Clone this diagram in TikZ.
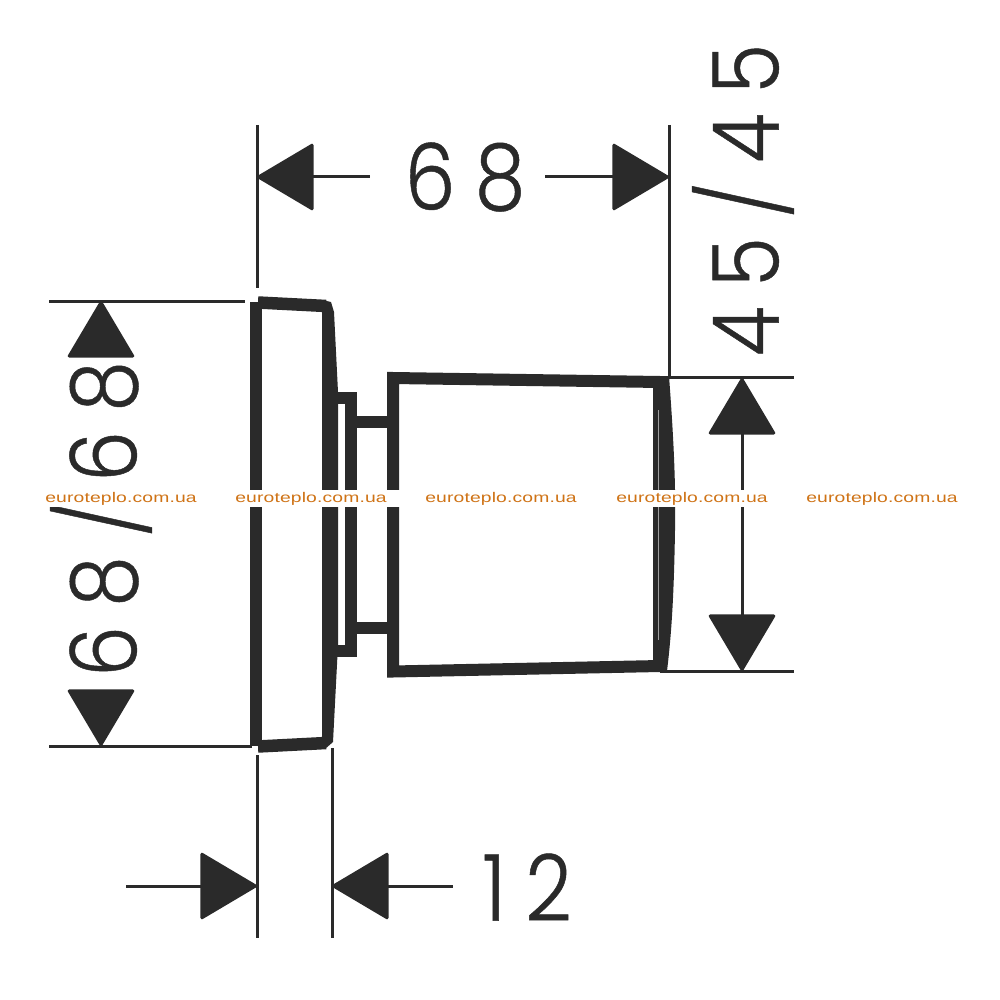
\documentclass[tikz,border=0pt]{standalone}
\usepackage{fontspec}
\setmainfont{Liberation Sans}
\newfontfamily\dimfont[LetterSpace=21,FakeStretch=0.88,FakeBold=0.5]{Poppins Light}
\newfontfamily\markfont[LetterSpace=1,FakeStretch=1.38]{Liberation Sans}
\usetikzlibrary{arrows.meta}
\definecolor{ink}{HTML}{2A2A2A}
\definecolor{wm}{HTML}{CF7316}
\tikzset{
  x=1pt,y=-1pt,
  thin line/.style={draw=ink,line width=3pt},
  heavy/.style={draw=ink,line width=12pt,line join=miter},
  dimline/.style={thin line,fill=ink,>={Triangle[length=58pt,width=68pt,round]}},
  dimlabel/.style={font=\dimfont\fontsize{92}{92}\selectfont,text=ink,inner sep=0pt,outer sep=0pt},
  dimlabelw/.style={dimlabel,rotate=90},
  wmark/.style={font=\markfont\fontsize{14}{16}\selectfont,text=wm,fill=white,inner xsep=0pt,inner ysep=0pt,minimum height=17pt,minimum width=180pt,text height=11pt,text depth=3pt}
}
\begin{document}
\begin{tikzpicture}
\useasboundingbox (0,0) rectangle (1000,1000);
% extension coordinates
\coordinate (e1) at (257,125); \coordinate (e2) at (257,288);
\coordinate (e3) at (669,125); \coordinate (e4) at (669,378);
\coordinate (e5) at (49,301);  \coordinate (e6) at (245,301);
\coordinate (e7) at (49,746);  \coordinate (e8) at (252,746);
\coordinate (e9) at (660,377); \coordinate (e10) at (794,377);
\coordinate (e11) at (660,671);\coordinate (e12) at (794,671);
\coordinate (e13) at (257,755);\coordinate (e14) at (257,938);
\coordinate (e15) at (332,748);\coordinate (e16) at (332,938);
\draw[thin line] (e1)--(e2); \draw[thin line] (e3)--(e4);
\draw[thin line] (e5)--(e6); \draw[thin line] (e7)--(e8);
\draw[thin line] (e9)--(e10); \draw[thin line] (e11)--(e12);
\draw[thin line] (e13)--(e14); \draw[thin line] (e15)--(e16);
% part: plate
\draw[heavy] (256,746) -- (256,302);
\draw[heavy,line width=12.5pt] (258,302.5) -- (326,306);
\draw[heavy,line width=12.5pt] (258,746.5) -- (326,743);
\fill[ink] (322,300) -- (331,302) -- (334,312) -- (338,392) -- (338,645) -- (333,742) -- (325,749) -- (322,738) -- cycle;
% part: stepped collar
\draw[heavy] (336,397.5) -- (351,397.5) -- (351,651) -- (336,651);
\draw[heavy] (351,421.5) -- (392,421.5);
\draw[heavy] (351,627.5) -- (392,627.5);
% part: knob
\draw[heavy] (660,382) -- (393,378) -- (393,671.5) -- (660,666);
\fill[ink] (653,376) -- (669,376) .. controls (673,430) and (676,480) .. (675,530) .. controls (674,590) and (672,630) .. (667,671) -- (653,671) -- cycle;
\draw[ink!45,line width=1pt] (658,410) -- (658,640);
% dimensions
\node[dimlabel] (top) at (465,177) {68};
\coordinate (t1) at (257,177); \coordinate (t2) at (669,177);
\draw[dimline,<-] (t1) -- (370,177);
\draw[dimline,->] (545,177) -- (t2);
\node[dimlabelw] (left) at (101,519) {68/68};
\coordinate (l1) at (101,301); \coordinate (l1b) at (101,356);
\coordinate (l2) at (101,746); \coordinate (l2b) at (101,691);
\draw[dimline,<-] (l1) -- (l1b);
\draw[dimline,<-] (l2) -- (l2b);
\node[dimlabelw] (right) at (743,200) {45/45};
\coordinate (r1) at (742,378); \coordinate (r2) at (742,671);
\draw[dimline,<->] (r1) -- (r2);
\node[dimlabel] (twelve) at (527,887) {12};
\coordinate (b0) at (126,886); \coordinate (b1) at (257,886); \coordinate (b2) at (332,886);
\draw[dimline,->] (b0) -- (b1);
\draw[dimline,<-] (b2) -- (453,886);
% watermarks
\node[wmark] (w1) at (121,498) {euroteplo.com.ua};
\node[wmark] (w2) at (311,498) {euroteplo.com.ua};
\node[wmark] (w3) at (501,498) {euroteplo.com.ua};
\node[wmark] (w4) at (692,498) {euroteplo.com.ua};
\node[wmark] (w5) at (882,498) {euroteplo.com.ua};
\end{tikzpicture}
\end{document}
